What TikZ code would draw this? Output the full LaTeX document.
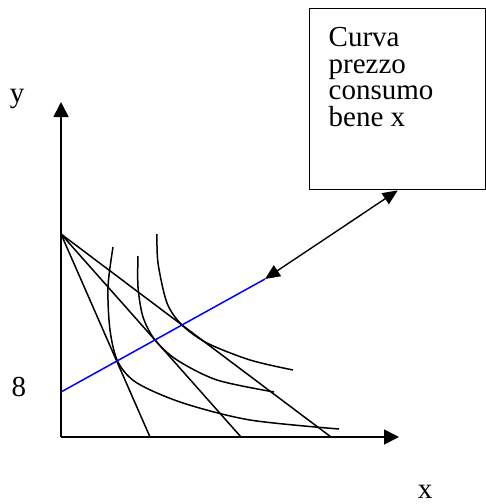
\documentclass[tikz,border=0pt]{standalone}
\usepackage{fontspec}
\setmainfont{Liberation Serif}
\usetikzlibrary{
    arrows.meta,
    positioning
}

\begin{document}
\begin{tikzpicture}[
  x=1pt,
  y=-1pt,
  every node/.style={font=\fontsize{29}{26.5}\selectfont},
  axis/.style={-{Triangle[length=15pt,width=15pt]}, line width=1.7pt},
  budget/.style={line width=1.5pt},
  indiff/.style={line width=1.5pt},
  pcc/.style={blue, line width=1.5pt},
  arrow/.style={{Triangle[length=15pt,width=13pt]}-{Triangle[length=15pt,width=13pt]}, line width=1.4pt},
  notebox/.style={
    draw,
    line width=1.4pt,
    anchor=north west,
    inner xsep=19pt,
    inner ysep=19pt
  }
]
  \useasboundingbox (0,0) rectangle (486,504);

  % Axes.
  \coordinate (origin) at (61,437);
  \coordinate (ytip) at (61,102);
  \coordinate (xtip) at (399,437);
  \draw[axis] (origin) -- (ytip);
  \draw[axis] (origin) -- (xtip);
  \node[anchor=base] (ylabel) at (17,102) {y};
  \node[anchor=base] (xlabel) at (425,498) {x};

  % Budget lines rotating around the intercept on the y axis.
  \coordinate (pivot) at (61,234);
  \coordinate (bx1) at (150,437);
  \coordinate (bx2) at (241,437);
  \coordinate (bx3) at (331,437);
  \draw[budget] (pivot) -- (bx1);
  \draw[budget] (pivot) -- (bx2);
  \draw[budget] (pivot) -- (bx3);

  % Indifference curves.
  \draw[indiff] plot[smooth] coordinates {(113,247) (108,287) (110,330) (118,362) (137,383) (183,403) (250,420) (339,429)};
  \draw[indiff] plot[smooth] coordinates {(138,256) (138,287) (143,317) (155,340) (177,360) (217,380) (274,392)};
  \draw[indiff] plot[smooth] coordinates {(157,234) (158,263) (167,303) (182,325) (207,343) (250,360) (293,370)};

  % Price consumption curve.
  \coordinate (pccstart) at (61,392);
  \coordinate (pccend) at (265,279);
  \draw[pcc] (pccstart) -- (pccend);
  \node[anchor=base] (eight) at (19,396.5) {8};

  % Label box.
  \node[notebox] (pccbox) at (309,8)
    {\parbox[t][143pt][t]{138pt}{Curva\\prezzo\\consumo\\bene x}};
  \draw[arrow] (pccend) -- (pccbox.south);
\end{tikzpicture}
\end{document}
